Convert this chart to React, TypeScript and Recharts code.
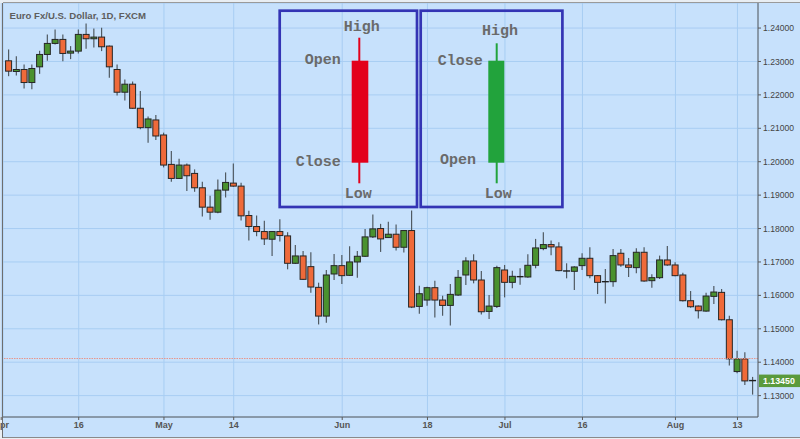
import React from 'react';
import { ComposedChart, Bar, XAxis, YAxis, CartesianGrid, ReferenceLine } from 'recharts';

// Daily EUR/USD candles, Apr 3 – Aug 15 (trading-day index 0..96)
const opens = [
  1.2302, 1.2270, 1.2276, 1.2237, 1.2284, 1.2321, 1.2354, 1.2366, 1.2325, 1.2331,
  1.2381, 1.2368, 1.2373, 1.2346, 1.2276, 1.2208, 1.2232, 1.2160, 1.2102, 1.2125,
  1.2080, 1.1992, 1.1950, 1.1990, 1.1965, 1.1922, 1.1864, 1.1849, 1.1915, 1.1936,
  1.1927, 1.1839, 1.1806, 1.1791, 1.1768, 1.1791, 1.1778, 1.1696, 1.1718, 1.1686,
  1.1624, 1.1538, 1.1664, 1.1689, 1.1660, 1.1700, 1.1717, 1.1775, 1.1800, 1.1773,
  1.1783, 1.1744, 1.1794, 1.1567, 1.1586, 1.1623, 1.1586, 1.1570, 1.1601, 1.1661,
  1.1703, 1.1646, 1.1552, 1.1567, 1.1676, 1.1639, 1.1656, 1.1655, 1.1690, 1.1740,
  1.1752, 1.1745, 1.1673, 1.1672, 1.1689, 1.1711, 1.1659, 1.1641, 1.1641, 1.1726,
  1.1691, 1.1683, 1.1729, 1.1644, 1.1653, 1.1706, 1.1691, 1.1661, 1.1584, 1.1568,
  1.1553, 1.1597, 1.1609, 1.1527, 1.1372, 1.1410, 1.1345,
];
const highs = [
  1.2336, 1.2316, 1.2291, 1.2291, 1.2332, 1.2381, 1.2396, 1.2381, 1.2346, 1.2396,
  1.2414, 1.2399, 1.2401, 1.2348, 1.2291, 1.2246, 1.2240, 1.2212, 1.2135, 1.2140,
  1.2087, 1.2032, 1.2009, 1.1995, 1.1977, 1.1940, 1.1898, 1.1947, 1.1968, 1.1995,
  1.1937, 1.1853, 1.1839, 1.1823, 1.1793, 1.1828, 1.1789, 1.1751, 1.1733, 1.1729,
  1.1638, 1.1676, 1.1724, 1.1721, 1.1747, 1.1733, 1.1799, 1.1842, 1.1814, 1.1820,
  1.1812, 1.1796, 1.1854, 1.1629, 1.1626, 1.1644, 1.1599, 1.1634, 1.1676, 1.1714,
  1.1723, 1.1673, 1.1601, 1.1689, 1.1691, 1.1674, 1.1681, 1.1723, 1.1769, 1.1789,
  1.1764, 1.1759, 1.1696, 1.1687, 1.1726, 1.1744, 1.1661, 1.1679, 1.1739, 1.1739,
  1.1712, 1.1741, 1.1744, 1.1663, 1.1719, 1.1748, 1.1699, 1.1668, 1.1613, 1.1570,
  1.1608, 1.1628, 1.1619, 1.1539, 1.1434, 1.1430, 1.1356,
];
const lows = [
  1.2256, 1.2258, 1.2219, 1.2217, 1.2263, 1.2302, 1.2351, 1.2301, 1.2307, 1.2324,
  1.2338, 1.2342, 1.2331, 1.2251, 1.2198, 1.2183, 1.2158, 1.2097, 1.2057, 1.2065,
  1.1983, 1.1940, 1.1948, 1.1912, 1.1910, 1.1836, 1.1826, 1.1846, 1.1893, 1.1925,
  1.1824, 1.1764, 1.1777, 1.1751, 1.1718, 1.1761, 1.1678, 1.1694, 1.1646, 1.1608,
  1.1513, 1.1518, 1.1646, 1.1634, 1.1658, 1.1653, 1.1715, 1.1772, 1.1730, 1.1772,
  1.1734, 1.1728, 1.1562, 1.1545, 1.1569, 1.1534, 1.1539, 1.1510, 1.1598, 1.1631,
  1.1636, 1.1543, 1.1529, 1.1562, 1.1594, 1.1621, 1.1632, 1.1653, 1.1681, 1.1735,
  1.1720, 1.1672, 1.1651, 1.1616, 1.1676, 1.1651, 1.1604, 1.1576, 1.1626, 1.1686,
  1.1655, 1.1666, 1.1641, 1.1623, 1.1649, 1.1689, 1.1657, 1.1582, 1.1563, 1.1531,
  1.1551, 1.1574, 1.1525, 1.1390, 1.1367, 1.1332, 1.1303,
];
const closes = [
  1.2271, 1.2276, 1.2237, 1.2279, 1.2321, 1.2354, 1.2366, 1.2324, 1.2331, 1.2381,
  1.2368, 1.2373, 1.2344, 1.2284, 1.2208, 1.2232, 1.2160, 1.2102, 1.2128, 1.2077,
  1.1990, 1.1950, 1.1990, 1.1958, 1.1922, 1.1864, 1.1849, 1.1915, 1.1938, 1.1927,
  1.1838, 1.1806, 1.1791, 1.1769, 1.1791, 1.1779, 1.1696, 1.1718, 1.1648, 1.1625,
  1.1538, 1.1661, 1.1689, 1.1659, 1.1700, 1.1717, 1.1775, 1.1799, 1.1769, 1.1783,
  1.1744, 1.1794, 1.1565, 1.1605, 1.1623, 1.1586, 1.1570, 1.1603, 1.1654, 1.1703,
  1.1646, 1.1551, 1.1568, 1.1683, 1.1639, 1.1657, 1.1656, 1.1690, 1.1742, 1.1752,
  1.1745, 1.1674, 1.1673, 1.1685, 1.1711, 1.1659, 1.1639, 1.1641, 1.1719, 1.1691,
  1.1684, 1.1729, 1.1643, 1.1653, 1.1706, 1.1691, 1.1659, 1.1584, 1.1566, 1.1554,
  1.1598, 1.1610, 1.1527, 1.1410, 1.1410, 1.1344, 1.1345,
];

const tickIndex = [-1, 9, 20, 29, 43, 54, 64, 74, 86, 94];
const tickLabels = ['Apr', '16', 'May', '14', 'Jun', '18', 'Jul', '16', 'Aug', '13'];
const priceTicks = [1.13, 1.14, 1.15, 1.16, 1.17, 1.18, 1.19, 1.2, 1.21, 1.22, 1.23, 1.24];
const lastPrice = 1.1345;
const alertLevel = 1.1411;
const chartTitle = 'Euro Fx/U.S. Dollar, 1D, FXCM';

const data = opens.map((o, i) => ({
  i,
  open: o,
  high: highs[i],
  low: lows[i],
  close: closes[i],
  range: [lows[i], highs[i]],
}));

const BG = '#c7e1fc';
const UP = '#4a922f';
const DOWN = '#ef6a3a';

const Candle = (props: any) => {
  const { x, y, width, height } = props;
  const p = props.payload || props;
  const top = Math.min(y, y + height);
  const bot = Math.max(y, y + height);
  const span = p.high - p.low;
  const py = (v: number) => (span > 0 ? top + ((p.high - v) / span) * (bot - top) : top);
  const cx = x + width / 2;
  const bTop = py(Math.max(p.open, p.close));
  const bBot = py(Math.min(p.open, p.close));
  const up = p.close > p.open;
  const doji = Math.abs(p.close - p.open) < 0.00005;
  return (
    <g>
      <line x1={cx} x2={cx} y1={top} y2={bot} stroke="#505a62" strokeWidth={1.2} />
      {doji ? (
        <line x1={x} x2={x + width} y1={bTop} y2={bTop} stroke="#1e1e1e" strokeWidth={1.4} />
      ) : (
        <rect
          x={x + 0.5}
          y={bTop}
          width={width - 1}
          height={Math.max(bBot - bTop, 1.5)}
          fill={up ? UP : DOWN}
          stroke="#262626"
          strokeWidth={1}
        />
      )}
    </g>
  );
};

const PriceTag = (props: any) => {
  const vb = props.viewBox || {};
  const x = (vb.x || 0) + (vb.width || 0) + 1;
  const y = vb.y || 0;
  return (
    <g>
      <rect x={x} y={y - 6} width={42} height={12.5} fill="#5a9a3c" />
      <text x={x + 4} y={y + 0.5} fill="#ffffff" fontSize={8.8} fontWeight="bold" fontFamily="Liberation Sans, Arial, sans-serif" dominantBaseline="central">
        {lastPrice.toFixed(5)}
      </text>
    </g>
  );
};

const mono = "'Liberation Mono', 'DejaVu Sans Mono', monospace";
const lbl = { fontFamily: mono, fontSize: 15, fontWeight: 'bold' as const, fill: '#6a6a6a' };

export default function App() {
  return (
    <div style={{ position: 'absolute', left: 0, top: 0, width: 800, height: 439, background: '#e9eef3', overflow: 'hidden' }}>
      <div style={{ position: 'absolute', left: 3, top: 3, width: 797, height: 434, background: BG }} />
      <div style={{ position: 'absolute', left: 0, top: 0 }}>
        <ComposedChart width={800} height={439} data={data} margin={{ top: 3, left: 3, right: 0, bottom: 0 }}>
          <CartesianGrid stroke="#a8cdf3" strokeWidth={1} />
          <XAxis
            type="number"
            dataKey="i"
            domain={[-0.77, 96.65]}
            allowDataOverflow
            ticks={tickIndex}
            interval={0}
            tickFormatter={(v: number) => tickLabels[tickIndex.indexOf(v)] ?? ''}
            height={22}
            tickSize={3}
            tickMargin={2}
            axisLine={{ stroke: '#5a5a5a' }}
            tickLine={{ stroke: '#5a5a5a' }}
            tick={{ fontSize: 9, fontWeight: 'bold', fill: '#555', fontFamily: 'Liberation Sans, Arial, sans-serif' }}
          />
          <YAxis
            orientation="right"
            type="number"
            domain={[1.1236, 1.2475]}
            allowDataOverflow
            ticks={priceTicks}
            interval={0}
            tickFormatter={(v: number) => v.toFixed(5)}
            width={42}
            tickSize={3}
            tickMargin={2}
            axisLine={{ stroke: '#5a5a5a' }}
            tickLine={{ stroke: '#5a5a5a' }}
            tick={{ fontSize: 8.6, fill: '#444', fontFamily: 'Liberation Sans, Arial, sans-serif' }}
          />
          <ReferenceLine y={alertLevel} stroke="#e8968c" strokeWidth={1} strokeDasharray="1.5 1" ifOverflow="extendDomain" />
          <Bar dataKey="range" barSize={7} shape={Candle} isAnimationActive={false} />
          <ReferenceLine y={lastPrice} stroke="none" label={(p: any) => <PriceTag {...p} />} />
        </ComposedChart>
      </div>
      <svg width={800} height={439} style={{ position: 'absolute', left: 0, top: 0, pointerEvents: 'none' }}>
        <line x1={2.5} x2={2.5} y1={3} y2={438} stroke="#6e6e6e" strokeWidth={1} />
        <line x1={3} x2={800} y1={2.5} y2={2.5} stroke="#9a9a9a" strokeWidth={1} />
        <line x1={3} x2={800} y1={437.5} y2={437.5} stroke="#8a8a8a" strokeWidth={1} />
        <text x={9.5} y={15.5} fontSize={9.6} fontWeight="bold" fill="#5e5e5e" fontFamily="Liberation Sans, Arial, sans-serif" dominantBaseline="central">
          {chartTitle}
        </text>
        {/* legend box 1: bearish */}
        <rect x={279.7} y={10.7} width={137.3} height={196.3} fill="none" stroke="#3434b4" strokeWidth={2.7} />
        <line x1={359.3} x2={359.3} y1={37.7} y2={183.3} stroke="#e3001b" strokeWidth={2} />
        <rect x={351.7} y={60.7} width={16.6} height={102} fill="#e3001b" />
        <text {...lbl} x={361.7} y={27.5} textAnchor="middle" dominantBaseline="central">High</text>
        <text {...lbl} x={340.7} y={60} textAnchor="end" dominantBaseline="central">Open</text>
        <text {...lbl} x={340.7} y={162.7} textAnchor="end" dominantBaseline="central">Close</text>
        <text {...lbl} x={358.3} y={194.3} textAnchor="middle" dominantBaseline="central">Low</text>
        {/* legend box 2: bullish */}
        <rect x={420.7} y={10.7} width={141.7} height={196.3} fill="none" stroke="#3434b4" strokeWidth={2.7} />
        <line x1={496.7} x2={496.7} y1={43.3} y2={183.3} stroke="#22a33c" strokeWidth={2} />
        <rect x={488.3} y={60.7} width={16} height={102} fill="#22a33c" />
        <text {...lbl} x={500} y={31} textAnchor="middle" dominantBaseline="central">High</text>
        <text {...lbl} x={482.7} y={61} textAnchor="end" dominantBaseline="central">Close</text>
        <text {...lbl} x={476} y={160} textAnchor="end" dominantBaseline="central">Open</text>
        <text {...lbl} x={498.3} y={194.3} textAnchor="middle" dominantBaseline="central">Low</text>
      </svg>
    </div>
  );
}
